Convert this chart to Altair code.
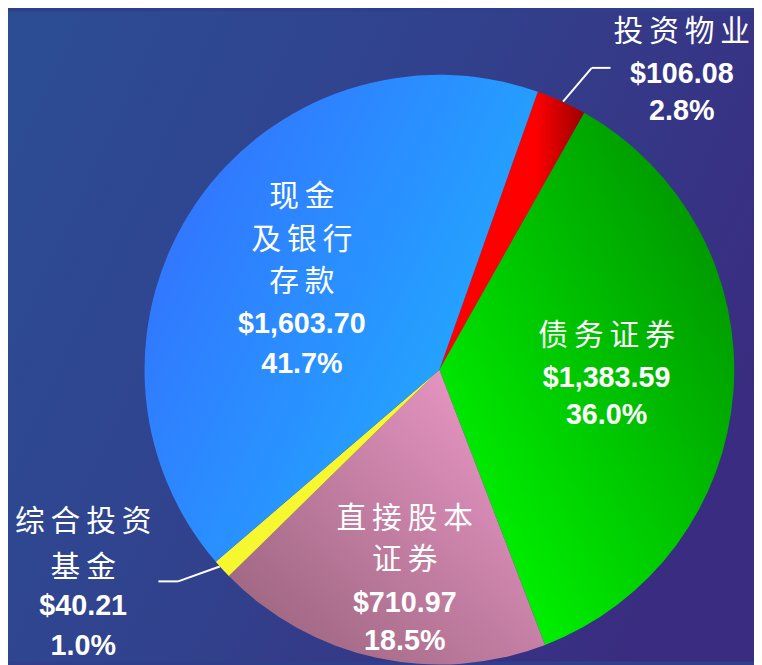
import math
import altair as alt
import pandas as pd

# ---- data ----
categories = ["投资物业", "债务证券", "直接股本证券", "综合投资基金", "现金及银行存款"]
values = [106.08, 1383.59, 710.97, 40.21, 1603.70]
percents = ["2.8", "36.0", "18.5", "1.0", "41.7"]
label_lines = [["投资物业"], ["债务证券"], ["直接股本", "证券"], ["综合投资", "基金"], ["现金", "及银行", "存款"]]

df = pd.DataFrame({"cat": categories, "value": values, "idx": list(range(len(categories)))})

W, H = 754, 657
CX, CY, R = 436, 362, 298
A0 = math.radians(19.5)

def lg(stops, x1=0, y1=0, x2=1, y2=0):
    return alt.LinearGradient(gradient="linear", x1=x1, y1=y1, x2=x2, y2=y2,
                              stops=[alt.GradientStop(color=c, offset=o) for o, c in stops])

fills = [
    lg([(0, "#FF0000"), (0.66, "#FF0000"), (1, "#9C0000")], 0, 0, 1, 0),
    lg([(0, "#00FF00"), (1, "#008C00")], 0.1, 1, 1, 0.1),
    lg([(0, "#F39DCE"), (1, "#946078")], 1, 0, 0, 1),
    lg([(0, "#FFFF40"), (1, "#F0F020")], 0, 0, 1, 1),
    lg([(0, "#3470FF"), (1, "#1EB4FF")], 0, 0.2, 1, 0.8),
]

bg = alt.Chart(alt.Data(values=[{}])).mark_rect(
    fill=lg([(0, "#2C4C94"), (0.5, "#32408C"), (1, "#3A2C80")], 0, 0.2, 1, 0.6)
).encode(x=alt.value(0), x2=alt.value(W), y=alt.value(0), y2=alt.value(H))

layers = [bg]
theta = alt.Theta("value:Q", stack=True, scale=alt.Scale(range=[A0, A0 + 2 * math.pi]))
for c, f in zip(categories, fills):
    layers.append(
        alt.Chart(df).mark_arc(outerRadius=R, fill=f, strokeWidth=0).encode(
            theta=theta,
            order=alt.Order("idx:Q"),
            x=alt.value(CX), y=alt.value(CY),
            opacity=alt.condition(alt.datum.cat == c, alt.value(1), alt.value(0)),
        )
    )

# leader lines
segs = [((561, 91), (590, 57)), ((590, 57), (609, 57)),
        ((214, 561), (172, 576)), ((172, 576), (152, 576))]
for (xa, ya), (xb, yb) in segs:
    layers.append(
        alt.Chart(alt.Data(values=[{}])).mark_rule(color="white", strokeWidth=2).encode(
            x=alt.value(xa), y=alt.value(ya), x2=alt.value(xb), y2=alt.value(yb))
    )

SP = "\u2009"
def cjk(s):
    return SP.join(list(s))

# label layout: (center x, baselines for cjk lines..., money, pct)
layout = [
    (681, [30], 72, 110),
    (605, [337], 380, 417),
    (401, [522, 563], 607, 645),
    (76, [525, 572], 610, 650),
    (297, [197, 240, 283], 325, 365),
]

for i, (cx, cjk_ys, ym, yp) in enumerate(layout):
    for line, yy in zip(label_lines[i], cjk_ys):
        layers.append(
            alt.Chart(alt.Data(values=[{}])).mark_text(
                text=cjk(line), font="Noto Sans CJK SC", fontSize=30, color="white",
                align="center", baseline="alphabetic"
            ).encode(x=alt.value(cx), y=alt.value(yy))
        )
    layers.append(
        alt.Chart(alt.Data(values=[{}])).mark_text(
            text=f"${values[i]:,.2f}", font="Liberation Sans", fontWeight="bold", fontSize=29,
            color="white", align="center", baseline="alphabetic"
        ).encode(x=alt.value(cx), y=alt.value(ym))
    )
    layers.append(
        alt.Chart(alt.Data(values=[{}])).mark_text(
            text=f"{percents[i]}%", font="Liberation Sans", fontWeight="bold", fontSize=29,
            color="white", align="center", baseline="alphabetic"
        ).encode(x=alt.value(cx), y=alt.value(yp))
    )

chart = alt.layer(*layers).properties(
    width=W, height=H, padding=0, autosize=alt.AutoSizeParams(type="none"),
    background="#2F3F8C"
).configure_view(stroke=None)

chart.save("out.html", embed_options={"renderer": "svg", "actions": False})
